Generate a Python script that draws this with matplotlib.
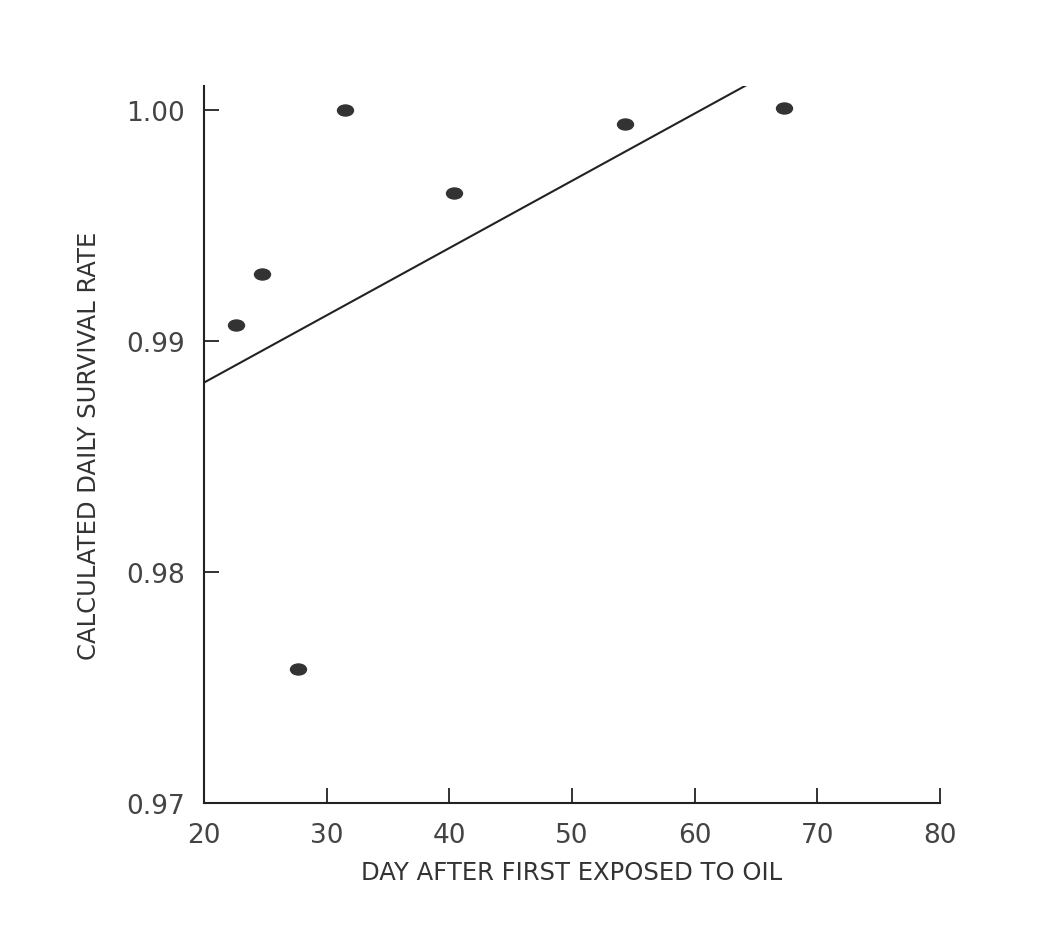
import numpy as np
import matplotlib
matplotlib.use("Agg")
import matplotlib.pyplot as plt
from matplotlib.path import Path
from matplotlib.transforms import Affine2D

day = [22.6, 24.7, 27.7, 31.5, 40.4, 54.3, 67.3]
survival = [0.9907, 0.9929, 0.9758, 1.0000, 0.9964, 0.9994, 1.0001]
fit_x = [20.0, 64.3]
fit_y = [0.9882, 1.0011]
xticks = [20, 30, 40, 50, 60, 70, 80]
yticks = [0.97, 0.98, 0.99, 1.00]

plt.rcParams['font.family'] = ['DejaVu Sans']
fig = plt.figure(figsize=(10.57, 9.28), dpi=100)
ax = fig.add_axes([204/1057, 1-804/928, (940-204)/1057, (804-87)/928])

ell = Path.unit_circle().transformed(Affine2D().scale(1.45, 1.0))
ax.plot(fit_x, fit_y, color='#222222', lw=1.5)
ax.plot(day, survival, linestyle='none', marker=ell, markersize=11.5,
        color='#333333')

ax.set_xlim(20, 80)
ax.set_ylim(0.97, 1.00104)
ax.set_xticks(xticks)
ax.set_yticks(yticks)
ax.set_yticklabels([f"{v:.2f}" for v in yticks])
for s in ['top', 'right']:
    ax.spines[s].set_visible(False)
for s in ['left', 'bottom']:
    ax.spines[s].set_linewidth(1.5)
    ax.spines[s].set_color('#222222')
ax.tick_params(direction='in', length=10.5, width=1.3, color='#222222',
               labelsize=19, labelcolor='#444444')
ax.tick_params(axis='y', pad=14)
ax.tick_params(axis='x', pad=14)
ax.set_xlabel('DAY AFTER FIRST EXPOSED TO OIL', fontsize=17.5,
              color='#333333', labelpad=8)
ax.set_ylabel('CALCULATED DAILY SURVIVAL RATE', fontsize=17.5,
              color='#333333', labelpad=18)

fig.savefig('out.png', dpi=100, facecolor='white')
